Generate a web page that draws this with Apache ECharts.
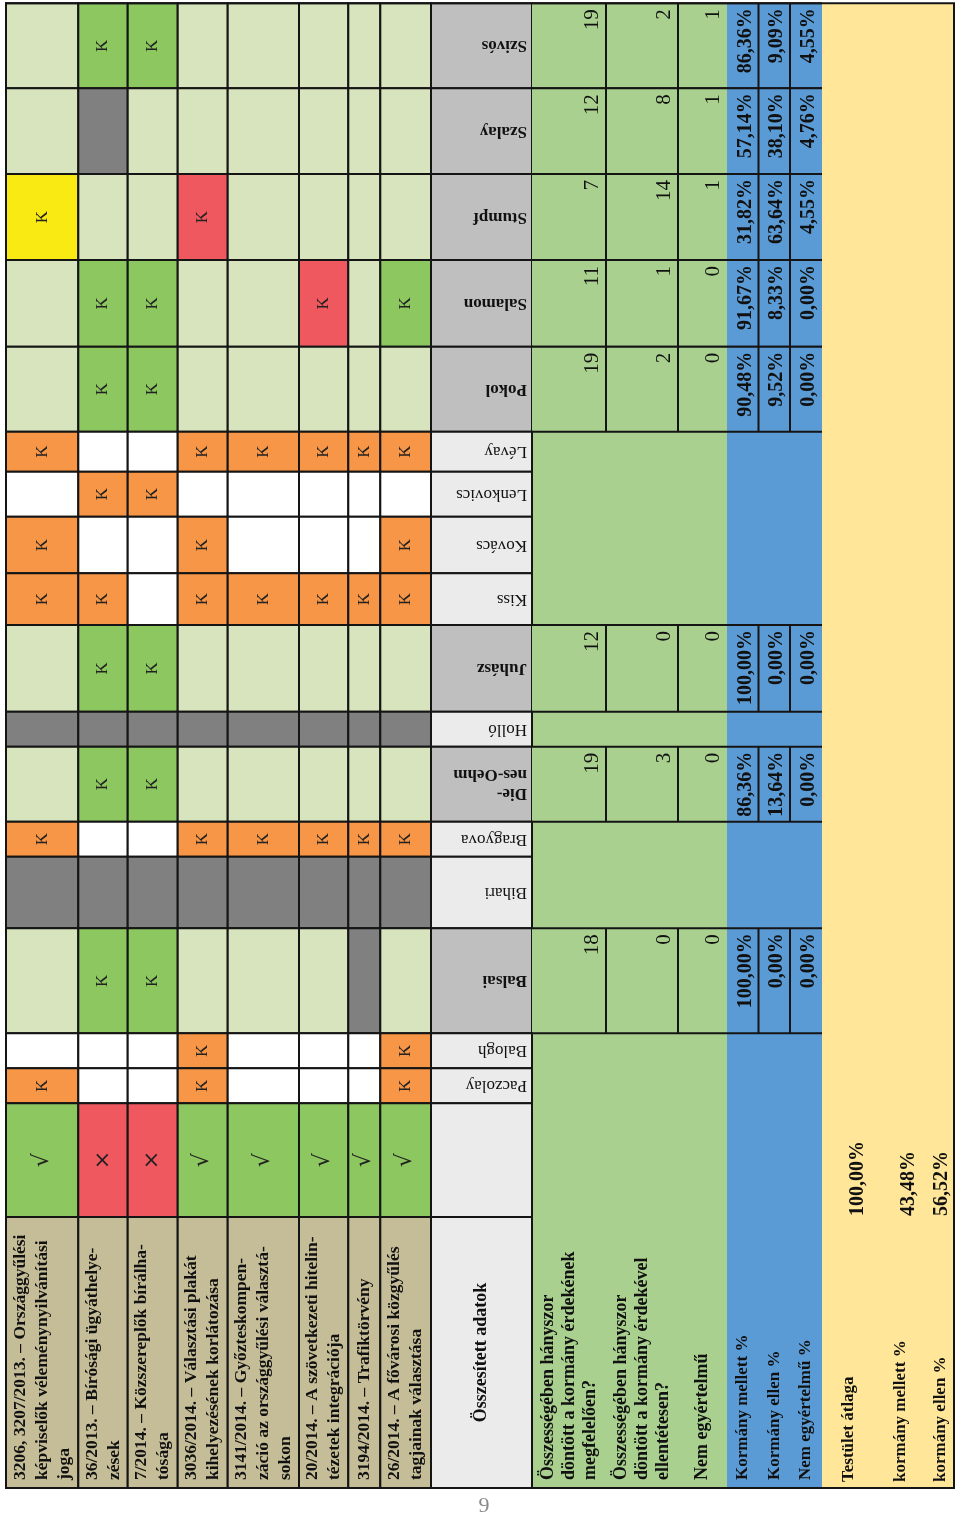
<!DOCTYPE html>
<html>
<head>
<meta charset="utf-8">
<script src="https://cdn.jsdelivr.net/npm/echarts@6/dist/echarts.min.js"></script>
<style>
html, body { margin: 0; padding: 0; background: #fff; }
#chart { width: 960px; height: 1517px; }
</style>
</head>
<body>
<div id="chart"></div>
<script>
// ---- data ----
var laws = [
    '3206, 3207/2013. – Országgyűlési\nképviselők véleménynyilvánítási\njoga',
    '36/2013. – Bírósági ügyáthelye-\nzések',
    '7/2014. – Közszereplők bírálha-\ntósága',
    '3036/2014. – Választási plakát\nkihelyezésének korlátozása',
    '3141/2014. – Győzteskompen-\nzáció az országgyűlési választá-\nsokon',
    '20/2014. – A szövetkezeti hitelin-\ntézetek integrációja',
    '3194/2014. – Trafiktörvény',
    '26/2014. – A fővárosi közgyűlés\ntagjainak választása'
];
var outcome = ['ok', 'no', 'no', 'ok', 'ok', 'ok', 'ok', 'ok'];
var judges = ['Szivós', 'Szalay', 'Stumpf', 'Salamon', 'Pokol', 'Lévay', 'Lenkovics', 'Kovács', 'Kiss',
    'Juhász', 'Holló', 'Die-\nnes-Oehm', 'Bragyova', 'Bihari', 'Balsai', 'Balogh', 'Paczolay'];
// one code per law: G/R/Y/O = "K" mark (green/red/yellow/orange), A = absent, '' = nothing
var votes = [
    ['', 'G', 'G', '', '', '', '', ''],
    ['', 'A', '', '', '', '', '', ''],
    ['Y', '', '', 'R', '', '', '', ''],
    ['', 'G', 'G', '', '', 'R', '', 'G'],
    ['', 'G', 'G', '', '', '', '', ''],
    ['O', '', '', 'O', 'O', 'O', 'O', 'O'],
    ['', 'O', 'O', '', '', '', '', ''],
    ['O', '', '', 'O', '', '', '', 'O'],
    ['O', 'O', '', 'O', 'O', 'O', 'O', 'O'],
    ['', 'G', 'G', '', '', '', '', ''],
    ['A', 'A', 'A', 'A', 'A', 'A', 'A', 'A'],
    ['', 'G', 'G', '', '', '', '', ''],
    ['O', '', '', 'O', 'O', 'O', 'O', 'O'],
    ['A', 'A', 'A', 'A', 'A', 'A', 'A', 'A'],
    ['', 'G', 'G', '', '', '', 'A', ''],
    ['', '', '', 'O', '', '', '', 'O'],
    ['O', '', '', 'O', '', '', '', 'O']
];
var forGov =     [19, 12, 7, 11, 19, null, null, null, null, 12, null, 19, null, null, 18, null, null];
var againstGov = [2, 8, 14, 1, 2, null, null, null, null, 0, null, 3, null, null, 0, null, null];
var unclear =    [1, 1, 1, 0, 0, null, null, null, null, 0, null, 0, null, null, 0, null, null];
var pctFor =     [86.36, 57.14, 31.82, 91.67, 90.48, null, null, null, null, 100, null, 86.36, null, null, 100, null, null];
var pctAgainst = [9.09, 38.10, 63.64, 8.33, 9.52, null, null, null, null, 0, null, 13.64, null, null, 0, null, null];
var pctUnclear = [4.55, 4.76, 4.55, 0, 0, null, null, null, null, 0, null, 0, null, null, 0, null, null];

var headerTitle = 'Összesített adatok';
var countLabels = ['Összességében hányszor\ndöntött a kormány érdekének\nmegfelelően?',
    'Összességében hányszor\ndöntött a kormány érdekével\nellentétesen?', 'Nem egyértelmű'];
var pctLabels = ['Kormány mellett %', 'Kormány ellen %', 'Nem egyértelmű %'];
var avgLabels = ['Testület átlaga', 'kormány mellett %', 'kormány ellen %'];
var avgValues = [100.00, 43.48, 56.52];
var pageNumber = '9';

// ---- layout (page pixels) ----
var lawWidths = [72.3, 49.4, 50, 50, 71.3, 49.3, 32, 50.7];
var headWidth = 101;
var countWidths = [74, 72, 49];
var pctWidths = [31.5, 31.5, 32];
var avgWidth = 132;
var avgLabelPos = [27, 79, 119];
var avgValuePos = [36, 87, 120];
var rowHeights = [85, 85.7, 86, 86.7, 85, 40, 45, 56.6, 51.7, 86.7, 35, 75, 35, 71.6, 105, 35, 35];
var checkHeight = 113.7;
var textHeight = 271;

var C = {
    tan: '#c4bd97', light: '#d7e4bd', green: '#8dc760', red: '#f0585f', orange: '#f79646',
    gray: '#808080', yellow: '#f9ea14', white: '#ffffff', headLight: '#ebebeb', headDark: '#bfbfbf',
    sumGreen: '#a9d08e', sumBlue: '#5b9bd5', sumYellow: '#ffe699', line: '#151515', ink: '#111'
};
var SERIF = '"Liberation Serif", "DejaVu Serif", serif';
var UP = Math.PI / 2, FLIP = Math.PI;

function cum(start, arr) {
    var out = [start];
    arr.forEach(function (w) { out.push(out[out.length - 1] + w); });
    return out;
}
function pct(v) { return v.toFixed(2).replace('.', ',') + '%'; }

var colX = cum(6, lawWidths);
var headX = [colX[8], colX[8] + headWidth];
var greenX = cum(headX[1], countWidths);
var blueX = cum(greenX[3], pctWidths);
var yellowX = [blueX[3], blueX[3] + avgWidth];
var rowY = cum(3.3, rowHeights);
var checkY = [rowY[17], rowY[17] + checkHeight];
var textY = [checkY[1], checkY[1] + textHeight];
var startY = textY[1] - 8;

// ---- build the cells ----
var cells = [];
function add(x0, y0, x1, y1, fill, stroke, texts, segs) {
    cells.push({ value: [x0, y0, x1, y1], fill: fill, stroke: stroke, texts: texts || [], segs: segs || [] });
}

// summary bands with their row labels
add(greenX[0], rowY[0], greenX[3], textY[1], C.sumGreen, null, countLabels.map(function (t, i) {
    return { text: t, ax: (greenX[i] + greenX[i + 1]) / 2, ay: startY, rot: UP, align: 'left', va: 'middle',
        font: 'bold 18px ' + SERIF, lh: 21 };
}));
add(blueX[0], rowY[0], blueX[3], textY[1], C.sumBlue, null, pctLabels.map(function (t, i) {
    return { text: t, ax: (blueX[i] + blueX[i + 1]) / 2, ay: startY, rot: UP, align: 'left', va: 'middle',
        font: 'bold 17px ' + SERIF };
}));
var avgTexts = [];
avgLabels.forEach(function (t, i) {
    avgTexts.push({ text: t, ax: yellowX[0] + avgLabelPos[i], ay: startY + 2, rot: UP, align: 'left', va: 'middle',
        font: 'bold 17px ' + SERIF });
    avgTexts.push({ text: pct(avgValues[i]), ax: yellowX[0] + avgValuePos[i], ay: textY[0] - 1, rot: UP, align: 'left',
        va: 'middle', font: 'bold 20px ' + SERIF });
});
add(yellowX[0], rowY[0], yellowX[1], textY[1], C.sumYellow, null, avgTexts);

// vote grid
var voteFill = { G: C.green, R: C.red, Y: C.yellow, O: C.orange, A: C.gray };
judges.forEach(function (name, j) {
    var hasData = forGov[j] !== null;
    votes[j].forEach(function (code, l) {
        var fill = code ? voteFill[code] : (hasData ? C.light : C.white);
        var texts = (code && code !== 'A') ? [{ text: 'K', ax: (colX[l] + colX[l + 1]) / 2,
            ay: (rowY[j] + rowY[j + 1]) / 2, rot: UP, font: '17px ' + SERIF, color: '#222' }] : [];
        add(colX[l], rowY[j], colX[l + 1], rowY[j + 1], fill, C.line, texts);
    });
    // judge name header
    add(headX[0], rowY[j], headX[1], rowY[j + 1], hasData ? C.headDark : C.headLight, C.line, [{
        text: name, ax: headX[1] - 5, ay: (rowY[j] + rowY[j + 1]) / 2, rot: FLIP, align: 'left', va: 'middle',
        font: (hasData ? 'bold ' : '') + '17px ' + SERIF, lh: 19 }]);
    if (!hasData) return;
    var y0 = rowY[j], y1 = rowY[j + 1];
    var counts = [forGov[j], againstGov[j], unclear[j]];
    var pcts = [pctFor[j], pctAgainst[j], pctUnclear[j]];
    counts.forEach(function (v, k) {
        add(greenX[k], y0, greenX[k + 1], y1, C.sumGreen, null, [{ text: String(v), ax: greenX[k + 1] - 3,
            ay: y0 + 6, rot: UP, align: 'right', va: 'bottom', font: '21px ' + SERIF }]);
    });
    pcts.forEach(function (v, k) {
        add(blueX[k], y0, blueX[k + 1], y1, C.sumBlue, null, [{ text: pct(v), ax: blueX[k + 1] - 3,
            ay: y0 + 5, rot: UP, align: 'right', va: 'bottom', font: 'bold 20px ' + SERIF }]);
    });
    var segs = [[greenX[0], y0, blueX[3], y0], [greenX[0], y1, blueX[3], y1]];
    [greenX[1], greenX[2], blueX[1], blueX[2]].forEach(function (x) { segs.push([x, y0, x, y1]); });
    add(greenX[0], y0, greenX[0], y0, null, null, [], segs);
});

// outcome row and law names
laws.forEach(function (t, l) {
    var cx = (colX[l] + colX[l + 1]) / 2;
    var ok = outcome[l] === 'ok';
    add(colX[l], checkY[0], colX[l + 1], checkY[1], ok ? C.green : C.red, C.line, [{
        text: ok ? '√' : '×', ax: cx, ay: (checkY[0] + checkY[1]) / 2, rot: UP,
        font: (ok ? '22px ' : '22px ') + '"DejaVu Sans", sans-serif', color: '#222' }]);
    add(colX[l], textY[0], colX[l + 1], textY[1], C.tan, C.line, [{
        text: t, ax: cx, ay: startY, rot: UP, align: 'left', va: 'middle', font: 'bold 17.5px ' + SERIF, lh: 22 }]);
});
add(headX[0], checkY[0], headX[1], checkY[1], C.headLight, C.line);
add(headX[0], textY[0], headX[1], textY[1], C.headLight, C.line, [{
    text: headerTitle, ax: (headX[0] + headX[1]) / 2, ay: (textY[0] + textY[1]) / 2, rot: UP,
    font: 'bold 18px ' + SERIF }]);

// outer frame
add(colX[0], rowY[0], yellowX[1], textY[1], null, C.line);

function renderItem(params, api) {
    var c = cells[params.dataIndex];
    var p0 = api.coord([api.value(0), api.value(1)]);
    var p1 = api.coord([api.value(2), api.value(3)]);
    var children = [];
    if (c.fill || c.stroke) {
        children.push({
            type: 'rect',
            shape: { x: p0[0], y: p0[1], width: p1[0] - p0[0], height: p1[1] - p0[1] },
            style: { fill: c.fill || 'transparent', stroke: c.stroke || null, lineWidth: c.stroke ? 2 : 0 }
        });
    }
    c.segs.forEach(function (s) {
        var a = api.coord([s[0], s[1]]), b = api.coord([s[2], s[3]]);
        children.push({ type: 'line', shape: { x1: a[0], y1: a[1], x2: b[0], y2: b[1] },
            style: { stroke: C.line, lineWidth: 2 } });
    });
    c.texts.forEach(function (t) {
        var a = api.coord([t.ax, t.ay]);
        children.push({
            type: 'text', x: a[0], y: a[1], rotation: t.rot || 0,
            style: { text: t.text, font: t.font, fill: t.color || C.ink, align: t.align || 'center',
                verticalAlign: t.va || 'middle', lineHeight: t.lh }
        });
    });
    return { type: 'group', children: children };
}

var chart = echarts.init(document.getElementById('chart'));
chart.setOption({
    animation: false,
    grid: { left: 0, right: 0, top: 0, bottom: 0 },
    xAxis: { type: 'value', min: 0, max: 960, show: false },
    yAxis: { type: 'value', min: 0, max: 1517, inverse: true, show: false },
    graphic: [{
        type: 'text', x: 484, y: 1506,
        style: { text: pageNumber, font: '22px ' + SERIF, fill: '#8a8a8a', align: 'center', verticalAlign: 'middle' }
    }],
    series: [{
        type: 'custom',
        coordinateSystem: 'cartesian2d',
        clip: false,
        encode: { x: [0, 2], y: [1, 3] },
        renderItem: renderItem,
        data: cells.map(function (c) { return c.value; })
    }]
});
</script>
</body>
</html>
